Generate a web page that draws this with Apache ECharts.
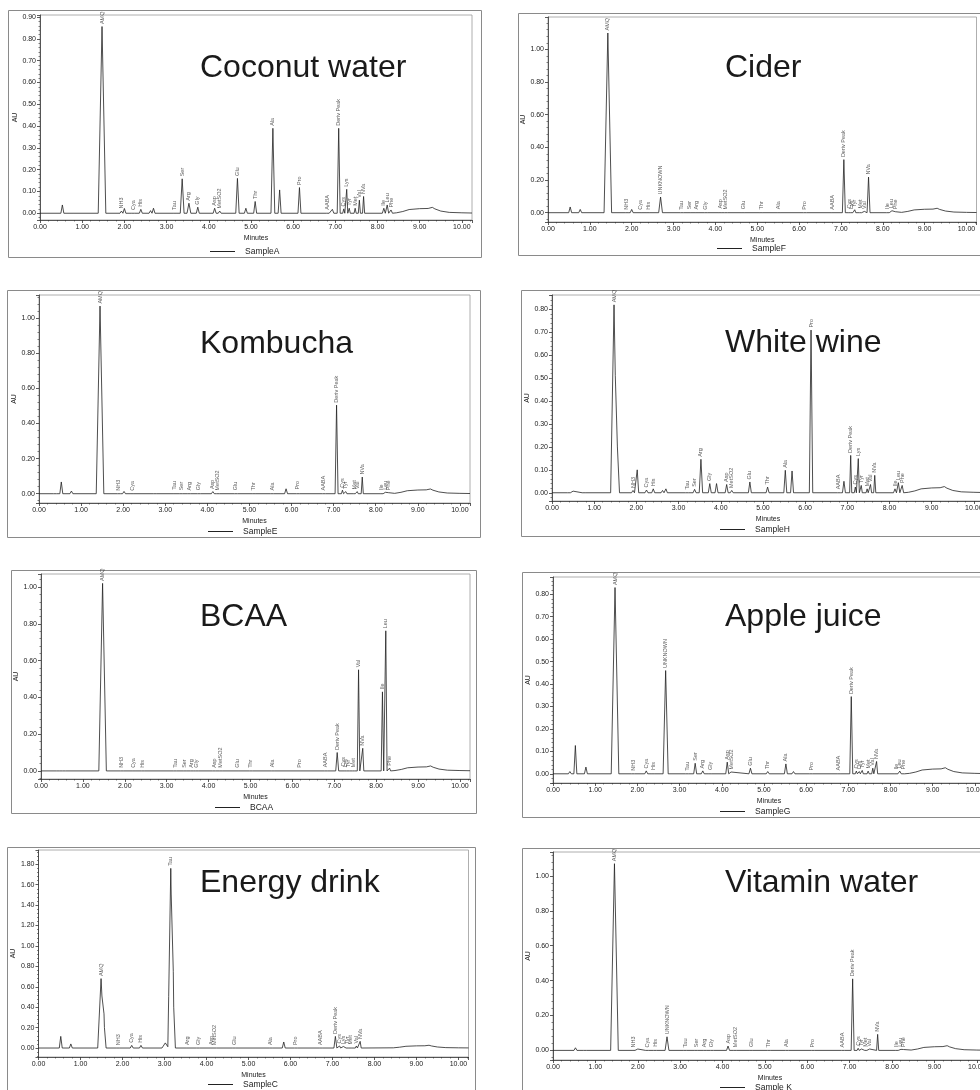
<!DOCTYPE html>
<html><head><meta charset="utf-8">
<script src="https://cdn.jsdelivr.net/npm/echarts@6/dist/echarts.min.js"></script>
<style>html,body{margin:0;padding:0;background:#fff}#c{width:980px;height:1090px}</style>
</head><body><div id="c"></div>
<script>
// ---- Data ----
const titles = ['Coconut water','Cider','Kombucha','White wine','BCAA','Apple juice','Energy drink','Vitamin water'];
const sampleNames = ['SampleA','SampleF','SampleE','SampleH','BCAA','SampleG','SampleC','Sample K'];
// peaks: [retention time (min), height (AU), label, optional half base width (min)]
const peaksCoconut = [[0.53,0.038,''],[0.77,0.005,''],[1.47,0.857,'AMQ',0.09],[1.93,0.01,'NH3'],[2.0,0.022,''],[2.21,0.004,'Cya'],[2.39,0.018,'His'],[2.62,0.012,''],[2.69,0.023,''],[3.19,0.004,'Tau'],[3.37,0.158,'Ser',0.045],[3.53,0.046,'Arg',0.045],[3.74,0.028,'Gly'],[4.14,0.023,'Asp'],[4.26,0.01,'MetSO2'],[4.68,0.16,'Glu',0.04],[4.88,0.023,''],[5.1,0.054,'Thr'],[5.52,0.39,'Ala',0.045],[5.68,0.107,''],[6.15,0.118,'Pro'],[6.82,0.005,'AABA'],[6.93,0.018,''],[7.08,0.39,'Deriv Peak'],[7.2,0.02,'Cys',0.025],[7.27,0.11,'Lys',0.025],[7.33,0.023,'Tyr',0.025],[7.47,0.023,'Met',0.025],[7.57,0.06,'Val',0.025],[7.67,0.077,'NVa',0.025],[8.15,0.023,'Ile'],[8.23,0.038,'Leu'],[8.32,0.015,'Phe']];
const peaksCider = [[0.53,0.035,''],[0.77,0.02,''],[1.43,1.10,'AMQ',0.09],[1.88,0.003,'NH3'],[2.0,0.02,''],[2.21,0.003,'Cya'],[2.4,0.003,'His'],[2.69,0.096,'UNKNOWN',0.045],[3.2,0.003,'Tau'],[3.38,0.005,'Ser'],[3.55,0.004,'Arg'],[3.77,0.003,'Gly'],[4.12,0.01,'Asp'],[4.25,0.004,'MetSO2'],[4.67,0.006,'Glu'],[5.1,0.004,'Thr'],[5.51,0.006,'Ala'],[6.14,0.003,'Pro'],[6.8,0.003,'AABA'],[7.07,0.325,'Deriv Peak'],[7.2,0.01,'Cys',0.025],[7.26,0.008,'Lys',0.025],[7.33,0.018,'Tyr',0.025],[7.47,0.01,'Met',0.025],[7.56,0.008,'Val',0.025],[7.66,0.218,'NVa'],[8.12,0.008,'Ile'],[8.22,0.012,'Leu'],[8.3,0.006,'Phe']];
const peaksKombucha = [[0.38,0.006,''],[0.53,0.067,''],[0.77,0.015,''],[1.45,1.07,'AMQ',0.09],[1.9,0.003,'NH3'],[2.02,0.013,''],[2.22,0.003,'Cya'],[2.75,0.005,''],[3.22,0.008,'Tau'],[3.38,0.005,'Ser'],[3.57,0.004,'Arg'],[3.8,0.005,'Gly'],[4.13,0.012,'Asp'],[4.25,0.004,'MetSO2'],[4.68,0.005,'Glu'],[5.1,0.004,'Thr'],[5.54,0.004,'Ala'],[5.87,0.028,''],[6.15,0.01,'Pro'],[6.77,0.004,'AABA'],[7.07,0.505,'Deriv Peak'],[7.21,0.02,'Cys',0.025],[7.29,0.012,'Tyr',0.025],[7.49,0.01,'Met',0.025],[7.56,0.012,'Val',0.025],[7.68,0.095,'NVa',0.025],[8.14,0.006,'Ile'],[8.23,0.008,'Leu'],[8.3,0.006,'Phe']];
const peaksWhiteWine = [[0.4,0.007,''],[0.5,0.007,''],[0.75,0.004,''],[1.47,0.82,'AMQ',0.08],[1.55,0.2,'',0.05],[1.92,0.01,'NH3'],[2.02,0.10,''],[2.24,0.012,'Cya'],[2.4,0.017,'His'],[2.62,0.01,''],[2.7,0.017,''],[3.2,0.003,'Tau'],[3.38,0.015,'Ser'],[3.53,0.146,'Arg',0.04],[3.74,0.04,'Gly'],[3.9,0.04,''],[4.14,0.036,'Asp'],[4.26,0.01,'MetSO2'],[4.69,0.047,'Glu'],[5.11,0.025,'Thr'],[5.53,0.098,'Ala'],[5.69,0.095,''],[6.14,0.71,'Pro',0.04],[6.8,0.004,'AABA'],[6.92,0.05,''],[7.08,0.163,'Deriv Peak',0.025],[7.19,0.025,'Cys',0.025],[7.26,0.149,'Lys',0.025],[7.33,0.032,'Tyr',0.025],[7.47,0.017,'Met',0.025],[7.55,0.036,'Val',0.025],[7.65,0.076,'NVa',0.025],[8.13,0.017,'Ile'],[8.21,0.044,'Leu'],[8.3,0.032,'Phe']];
const peaksBCAA = [[0.4,0.006,''],[0.55,0.004,''],[1.47,1.02,'AMQ',0.09],[1.93,0.003,'NH3'],[2.21,0.003,'Cya'],[2.43,0.003,'His'],[3.2,0.003,'Tau'],[3.43,0.003,'Ser'],[3.6,0.003,'Arg'],[3.72,0.003,'Gly'],[4.13,0.003,'Asp'],[4.29,0.004,'MetSO2'],[4.69,0.003,'Glu'],[5.01,0.003,'Thr'],[5.53,0.006,'Ala'],[6.17,0.003,'Pro'],[6.8,0.006,'AABA'],[7.07,0.10,'Deriv Peak'],[7.21,0.01,'Cys',0.025],[7.27,0.006,'Lys',0.025],[7.34,0.006,'Tyr',0.025],[7.46,0.006,'Met',0.025],[7.58,0.55,'Val',0.03],[7.68,0.123,'NVa',0.025],[8.15,0.43,'Ile',0.03],[8.23,0.762,'Leu',0.03],[8.32,0.015,'Phe',0.025]];
const peaksAppleJuice = [[0.4,0.01,''],[0.53,0.126,''],[0.78,0.03,''],[1.47,0.83,'AMQ',0.09],[1.9,0.003,'NH3'],[2.21,0.013,'Cya'],[2.38,0.006,'His'],[2.67,0.46,'UNKNOWN',0.06],[3.18,0.003,'Tau'],[3.37,0.047,'Ser'],[3.55,0.013,'Arg'],[3.73,0.006,'Gly'],[4.13,0.052,'Asp'],[4.22,0.008,'MetSO2'],[4.68,0.025,'Glu'],[5.09,0.01,'Thr'],[5.52,0.044,'Ala'],[5.7,0.01,''],[6.12,0.004,'Pro'],[6.77,0.004,'AABA'],[7.07,0.344,'Deriv Peak'],[7.19,0.012,'Cys',0.025],[7.26,0.01,'Lys',0.025],[7.33,0.015,'Tyr',0.025],[7.47,0.012,'Met',0.025],[7.58,0.025,'Val',0.025],[7.67,0.055,'NVa',0.025],[8.14,0.008,'Ile'],[8.22,0.012,'Leu'],[8.3,0.008,'Phe']];
const peaksEnergy = [[0.53,0.114,''],[0.77,0.04,''],[1.49,0.68,'AMQ',0.08],[1.56,0.25,'',0.05],[1.9,0.003,'NH3'],[2.22,0.026,'Cya'],[2.44,0.026,'His'],[3.02,0.05,'',0.08],[3.15,1.76,'Tau',0.07],[3.21,0.5,'',0.05],[3.55,0.004,'Arg'],[3.8,0.004,'Gly'],[4.12,0.004,'Asp'],[4.2,0.004,'MetSO2'],[4.66,0.004,'Glu'],[5.53,0.004,'Ala'],[5.84,0.059,''],[6.13,0.004,'Pro'],[6.72,0.004,'AABA'],[7.07,0.114,'Deriv Peak'],[7.17,0.02,'Cys',0.025],[7.26,0.015,'Lys',0.025],[7.35,0.015,'Tyr',0.025],[7.42,0.01,'Met',0.025],[7.57,0.02,'Val',0.025],[7.66,0.065,'NVa',0.025]];
const peaksVitamin = [[0.53,0.015,''],[0.75,0.005,''],[1.45,1.07,'AMQ',0.09],[1.9,0.003,'NH3'],[2.0,0.008,''],[2.22,0.003,'Cya'],[2.41,0.006,'His'],[2.69,0.078,'UNKNOWN',0.045],[3.12,0.003,'Tau'],[3.38,0.004,'Ser'],[3.58,0.004,'Arg'],[3.75,0.004,'Gly'],[4.13,0.025,'Asp'],[4.3,0.004,'MetSO2'],[4.68,0.005,'Glu'],[5.09,0.003,'Thr'],[5.52,0.005,'Ala'],[6.13,0.003,'Pro'],[6.84,0.003,'AABA'],[7.07,0.41,'Deriv Peak'],[7.2,0.012,'Cys',0.025],[7.28,0.008,'Tyr',0.025],[7.38,0.006,'Met',0.025],[7.47,0.008,'Val',0.025],[7.66,0.092,'NVa',0.025],[8.11,0.005,'Ile'],[8.21,0.006,'Leu'],[8.27,0.005,'Phe']];
// late-gradient baseline hump (time, AU)
const baselineDrift = [[8.45,0.002],[8.6,0.008],[8.75,0.017],[9.0,0.021],[9.2,0.022],[9.3,0.027],[9.36,0.02],[9.5,0.01],[9.7,0.004],[10.0,0.002],[10.24,0.001]];
// y axis ranges (AU) and label steps per panel
const yMin  = [-0.031,-0.057,-0.053,-0.036,-0.044,-0.041,-0.088,-0.055];
const yMax  = [0.91, 1.198, 1.133, 0.863, 1.071, 0.877, 1.94, 1.137];
const yStep = [0.1, 0.2, 0.2, 0.1, 0.2, 0.1, 0.2, 0.2];
const allPeaks = [peaksCoconut,peaksCider,peaksKombucha,peaksWhiteWine,peaksBCAA,peaksAppleJuice,peaksEnergy,peaksVitamin];

// ---- Layout (pixels) ----
const layout = [
  {g:[40,15,432,205],   f:[8,10,473,247],   t:[200,68],  l:[210,252]},
  {g:[548,17,428.5,205],f:[518,13,480,242], t:[725,68],  l:[717,249]},
  {g:[39,295,431,208],  f:[7,290,473,247],  t:[200,344], l:[208,532]},
  {g:[552,295,432,206], f:[521,290,480,246],t:[725,343], l:[720,530]},
  {g:[41,574,429,205],  f:[11,570,465,243], t:[200,617], l:[215,808]},
  {g:[553,577,432,206], f:[522,572,480,245],t:[725,617], l:[720,812]},
  {g:[38.5,850,430,207],f:[7,847,468,260],  t:[200,883], l:[208,1085]},
  {g:[553,852,434,208], f:[522,848,480,260],t:[725,883], l:[720,1088]}
];
const DEFAULT_W = 0.035;
function buildTrace(peaks){
  const xs=[];
  peaks.forEach(p=>{const w=p[3]||DEFAULT_W; xs.push(p[0]-w,p[0],p[0]+w);});
  xs.sort((a,b)=>a-b);
  const pts=[[0,0]];
  xs.forEach(x=>{let y=0; peaks.forEach(p=>{const w=p[3]||DEFAULT_W; const d=Math.abs(x-p[0]); if(d<w) y+=p[1]*(1-d/w);}); pts.push([x,y]);});
  baselineDrift.forEach(d=>pts.push(d));
  return pts;
}
const axisColor='#333', txt='#222', FONT='"Liberation Sans", Arial, sans-serif';
const grid=[],xAxis=[],yAxis=[],series=[],legend=[],graphic=[];
allPeaks.forEach((peaks,i)=>{
  const L=layout[i];
  grid.push({left:L.g[0],top:L.g[1],width:L.g[2],height:L.g[3],show:true,borderColor:'#9a9a9a',borderWidth:0.8,backgroundColor:'transparent',containLabel:false,outerBoundsMode:'none'});
  xAxis.push({type:'value',gridIndex:i,min:0,max:10.24,interval:1,
    axisLine:{show:true,onZero:false,lineStyle:{color:axisColor,width:0.8}},
    axisTick:{show:true,length:3,lineStyle:{color:axisColor,width:0.8}},
    minorTick:{show:true,splitNumber:5,length:1.5,lineStyle:{color:axisColor,width:0.6}},
    splitLine:{show:false},minorSplitLine:{show:false},
    axisLabel:{fontSize:7,color:txt,margin:4,fontFamily:FONT,showMaxLabel:true,formatter:v=>Math.abs(v-Math.round(v))<1e-6?v.toFixed(2):''},
    name:'Minutes',nameLocation:'middle',nameGap:15,nameTextStyle:{fontSize:7,color:txt,fontFamily:FONT}});
  const st=yStep[i];
  yAxis.push({type:'value',gridIndex:i,min:yMin[i],max:yMax[i],splitNumber:Math.round((yMax[i]-yMin[i])/st),
    axisLine:{show:true,onZero:false,lineStyle:{color:axisColor,width:0.8}},
    axisTick:{show:true,length:3,lineStyle:{color:axisColor,width:0.8}},
    minorTick:{show:true,splitNumber:5,length:1.5,lineStyle:{color:axisColor,width:0.6}},
    splitLine:{show:false},minorSplitLine:{show:false},
    axisLabel:{fontSize:7,color:txt,margin:4,fontFamily:FONT,showMinLabel:true,showMaxLabel:true,formatter:v=>(v>-1e-9&&Math.abs(v/st-Math.round(v/st))<1e-6)?v.toFixed(2):''},
    name:'AU',nameLocation:'middle',nameGap:19,nameTextStyle:{fontSize:7,color:txt,fontFamily:FONT}});
  series.push({type:'line',name:sampleNames[i],xAxisIndex:i,yAxisIndex:i,data:buildTrace(peaks),
    symbol:'none',showSymbol:false,color:'#222',lineStyle:{color:'#222',width:0.8},itemStyle:{color:'#222'},animation:false,z:3});
  series.push({type:'scatter',name:'labels'+i,xAxisIndex:i,yAxisIndex:i,symbolSize:1,clip:false,animation:false,silent:true,
    itemStyle:{color:'rgba(0,0,0,0)'},
    data:peaks.filter(p=>p[2]).map(p=>[p[0],p[1],p[2]]),
    label:{show:true,formatter:p=>p.value[2],position:'top',distance:2,rotate:90,align:'left',verticalAlign:'middle',fontSize:5.5,color:'#333',fontFamily:FONT},z:4});
  legend.push({data:[{name:sampleNames[i],icon:'rect'}],left:L.l[0],top:L.l[1]-5,itemWidth:25,itemHeight:1,selectedMode:false,padding:0,
    textStyle:{fontSize:8.5,color:txt,fontFamily:FONT,padding:[0,0,0,5]}});
  graphic.push({type:'rect',shape:{x:L.f[0]+0.5,y:L.f[1]+0.5,width:L.f[2],height:L.f[3]},style:{fill:'none',stroke:'#8a8a8a',lineWidth:1},z:-1,silent:true});
  graphic.push({type:'text',x:L.t[0],y:L.t[1],style:{text:titles[i],font:'32px '+FONT,fill:'#1a1a1a',textVerticalAlign:'middle',verticalAlign:'middle',textAlign:'left',align:'left'},z:1,silent:true});
});
const chart=echarts.init(document.getElementById('c'),null,{renderer:'canvas',width:980,height:1090});
chart.setOption({backgroundColor:'#fff',animation:false,textStyle:{fontFamily:FONT},grid,xAxis,yAxis,series,legend,graphic});
</script></body></html>
